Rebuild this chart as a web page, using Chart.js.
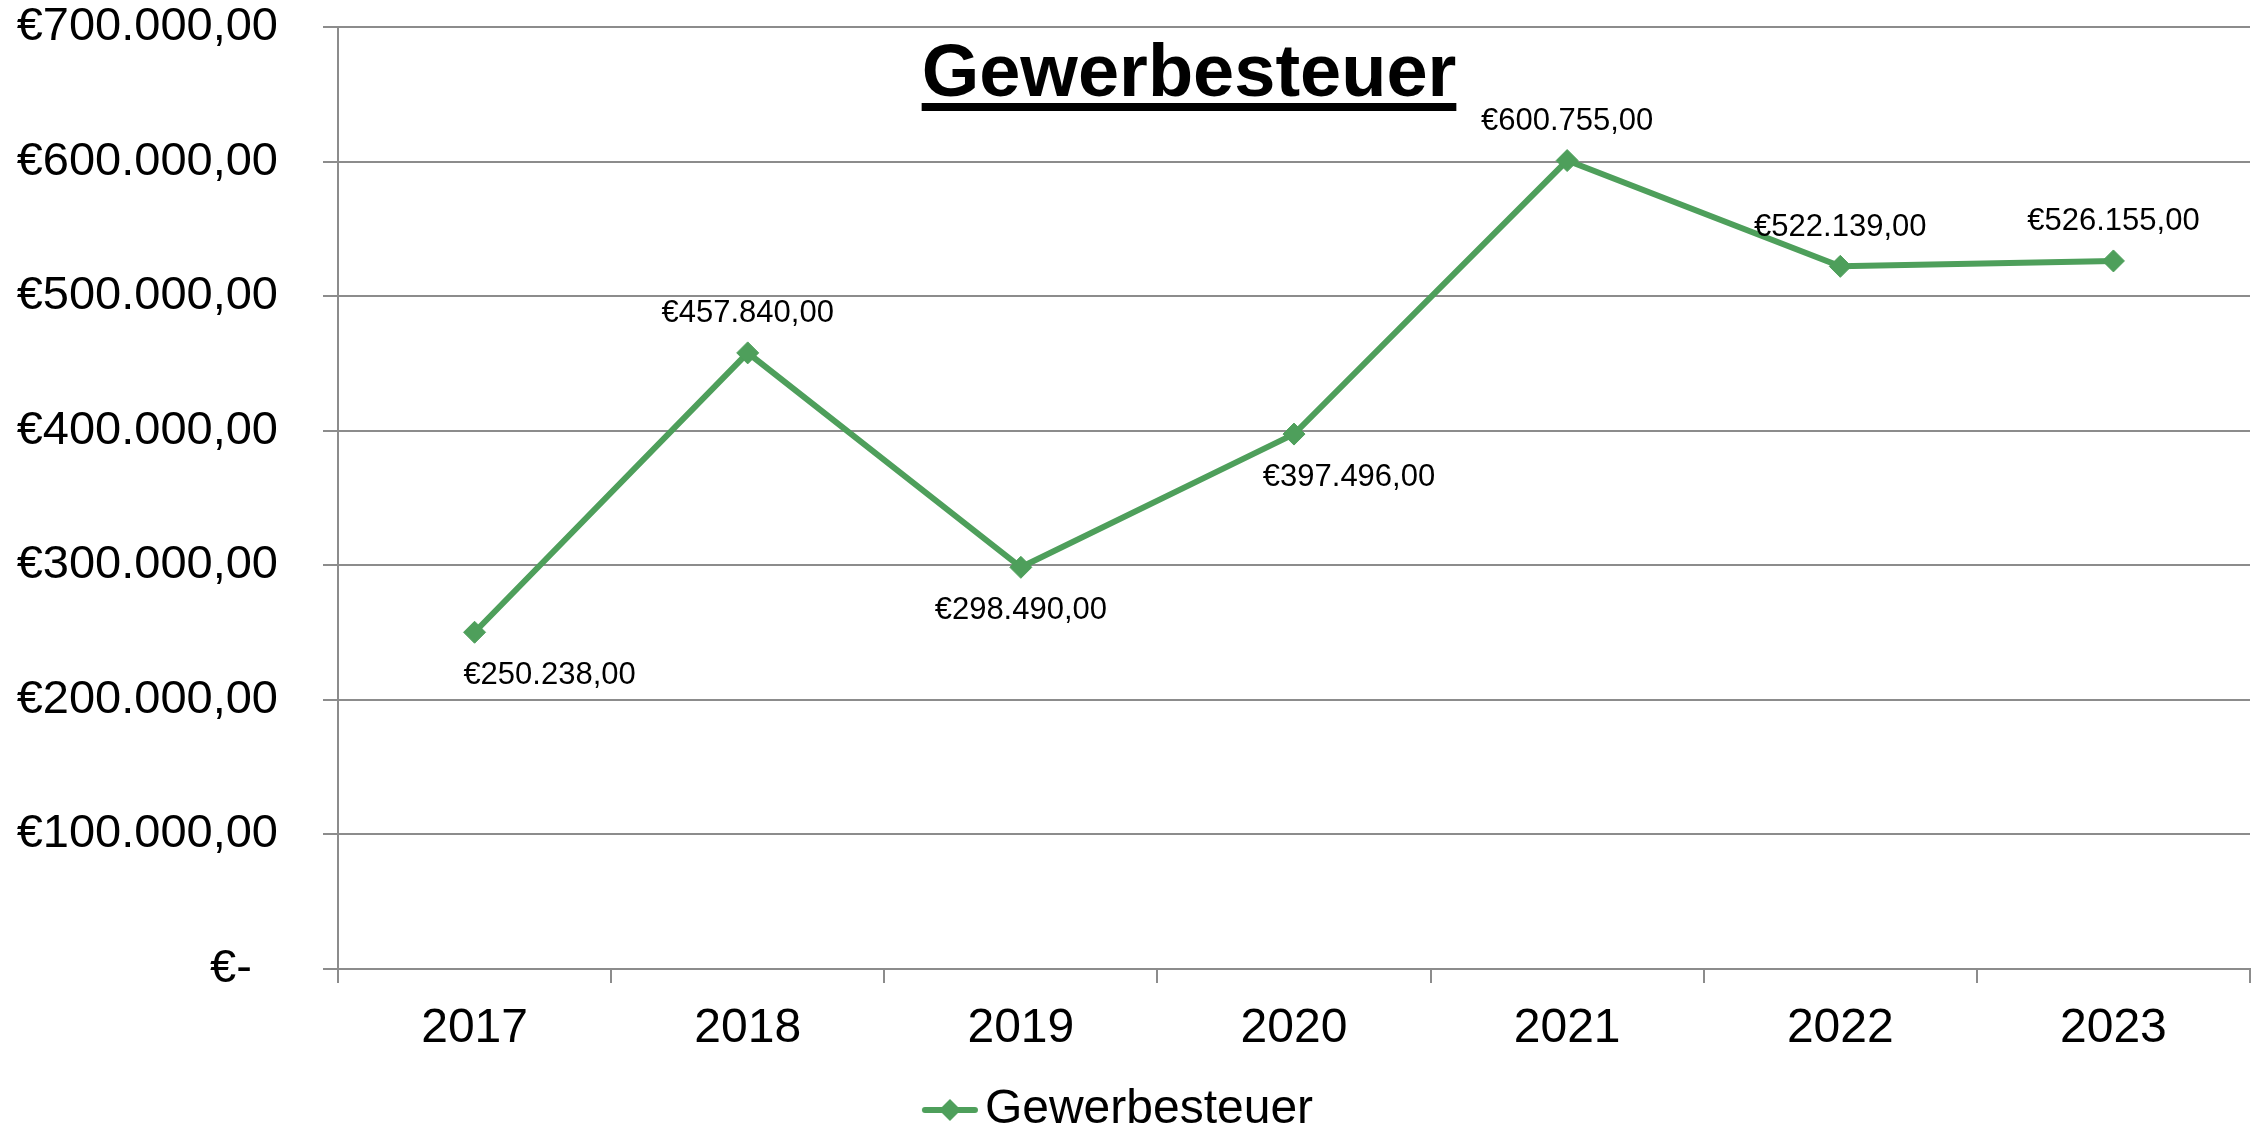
<!DOCTYPE html>
<html lang="de">
<head>
<meta charset="UTF-8">
<title>Gewerbesteuer</title>
<script src="https://cdn.jsdelivr.net/npm/chart.js"></script>
<style>
  html, body { margin: 0; padding: 0; background: #fff; }
  #wrap { width: 2262px; height: 1126px; position: relative; }
</style>
</head>
<body>
<div id="wrap"><canvas id="chart"></canvas></div>
<script>
// data
const years = ['2017', '2018', '2019', '2020', '2021', '2022', '2023'];
const gewerbesteuer = [250238, 457840, 298490, 397496, 600755, 522139, 526155];
const seriesName = 'Gewerbesteuer';
const chartTitle = 'Gewerbesteuer';
const yMin = 0;
const yMax = 700000;
const yStep = 100000;

const FONT = '"Liberation Sans", Arial, Helvetica, sans-serif';
const GREEN = '#4E9F5B';
const GRID = '#8C8C8C';

// 250238 -> "€250.238,00", 0 -> "€-"
function euro(v) {
    if (v === 0) return '€-  ';
    const parts = Math.abs(v).toFixed(2).split('.');
    const int = parts[0].replace(/\B(?=(\d{3})+(?!\d))/g, '.');
    return '€' + int + ',' + parts[1];
}

// legend icon: short line with a diamond in the middle
const legendIcon = document.createElement('canvas');
legendIcon.width = 58;
legendIcon.height = 26;
(function () {
    const c = legendIcon.getContext('2d');
    c.strokeStyle = GREEN;
    c.lineWidth = 6;
    c.lineCap = 'round';
    c.beginPath();
    c.moveTo(4, 13);
    c.lineTo(54, 13);
    c.stroke();
    c.fillStyle = GREEN;
    c.beginPath();
    c.moveTo(29, 2);
    c.lineTo(40, 13);
    c.lineTo(29, 24);
    c.lineTo(18, 13);
    c.closePath();
    c.fill();
})();

// value labels next to each point
const pointLabels = {
    id: 'pointLabels',
    afterDatasetsDraw(chart, args, opts) {
        const ctx = chart.ctx;
        const meta = chart.getDatasetMeta(0);
        const data = chart.data.datasets[0].data;
        ctx.save();
        ctx.font = opts.size + 'px ' + FONT;
        ctx.fillStyle = '#000';
        ctx.textAlign = 'center';
        ctx.textBaseline = 'middle';
        meta.data.forEach((pt, i) => {
            const dy = opts.placement[i] === 'above' ? -opts.gapAbove : opts.gapBelow;
            ctx.fillText(euro(data[i]), pt.x + opts.shift[i], pt.y + dy);
        });
        ctx.restore();
    }
};

// bold underlined title sitting inside the plot area
const titlePlugin = {
    id: 'titlePlugin',
    afterDraw(chart, args, opts) {
        const ctx = chart.ctx;
        ctx.save();
        ctx.font = 'bold ' + opts.size + 'px ' + FONT;
        ctx.fillStyle = '#000';
        ctx.textAlign = 'center';
        ctx.textBaseline = 'alphabetic';
        ctx.fillText(opts.text, opts.x, opts.y);
        const w = ctx.measureText(opts.text).width;
        ctx.fillRect(opts.x - w / 2, opts.y + 7, w, 8);
        ctx.restore();
    }
};

// legend sits a bit lower than Chart.js would put it
const legendNudge = {
    id: 'legendNudge',
    afterLayout(chart, args, opts) {
        if (chart.legend) {
            chart.legend.top += opts.dy;
            chart.legend.bottom += opts.dy;
        }
    }
};

const ctx = document.getElementById('chart').getContext('2d');
new Chart(ctx, {
    type: 'line',
    data: {
        labels: years,
        datasets: [{
            label: seriesName,
            data: gewerbesteuer,
            borderColor: GREEN,
            backgroundColor: GREEN,
            borderWidth: 6,
            tension: 0,
            pointStyle: 'rectRot',
            pointRadius: 11,
            pointBorderWidth: 1,
            pointBackgroundColor: GREEN,
            pointBorderColor: GREEN,
            fill: false
        }]
    },
    plugins: [pointLabels, titlePlugin, legendNudge],
    options: {
        responsive: true,
        maintainAspectRatio: false,
        animation: false,
        devicePixelRatio: 1,
        layout: { padding: { left: 0, right: 10, top: 0, bottom: 0 } },
        scales: {
            x: {
                offset: true,
                afterFit(scale) { scale.height = 84; },
                grid: {
                    display: true,
                    offset: true,
                    drawOnChartArea: false,
                    drawTicks: true,
                    tickLength: 14,
                    color: GRID,
                    lineWidth: 2
                },
                border: { display: true, color: GRID, width: 2 },
                ticks: {
                    color: '#000',
                    padding: 17,
                    font: { family: FONT, size: 48 }
                }
            },
            y: {
                min: yMin,
                max: yMax,
                afterFit(scale) {
                    scale.width = 338;
                    // keep the big label gap from eating space above the plot
                    scale.paddingTop = 27;
                    scale.paddingBottom = 27;
                },
                grid: {
                    color: GRID,
                    lineWidth: 2,
                    tickLength: 15,
                    drawTicks: true
                },
                border: { display: true, color: GRID, width: 2 },
                ticks: {
                    stepSize: yStep,
                    color: '#000',
                    padding: 45,
                    font: { family: FONT, size: 47 },
                    callback: (v) => euro(v)
                }
            }
        },
        plugins: {
            title: { display: false },
            tooltip: { enabled: false },
            legend: {
                display: true,
                position: 'bottom',
                labels: {
                    color: '#000',
                    font: { family: FONT, size: 48 },
                    padding: 15,
                    usePointStyle: true,
                    pointStyleWidth: 22,
                    generateLabels(chart) {
                        const items = Chart.defaults.plugins.legend.labels.generateLabels(chart);
                        items.forEach(it => { it.pointStyle = legendIcon; });
                        return items;
                    }
                }
            },
            legendNudge: { dy: 18 },
            pointLabels: {
                size: 31,
                gapAbove: 39,
                gapBelow: 43,
                placement: ['below', 'above', 'below', 'below', 'above', 'above', 'above'],
                shift: [75, 0, 0, 55, 0, 0, 0]
            },
            titlePlugin: {
                text: chartTitle,
                size: 74,
                x: 1189,
                y: 96
            }
        }
    }
});
</script>
</body>
</html>
